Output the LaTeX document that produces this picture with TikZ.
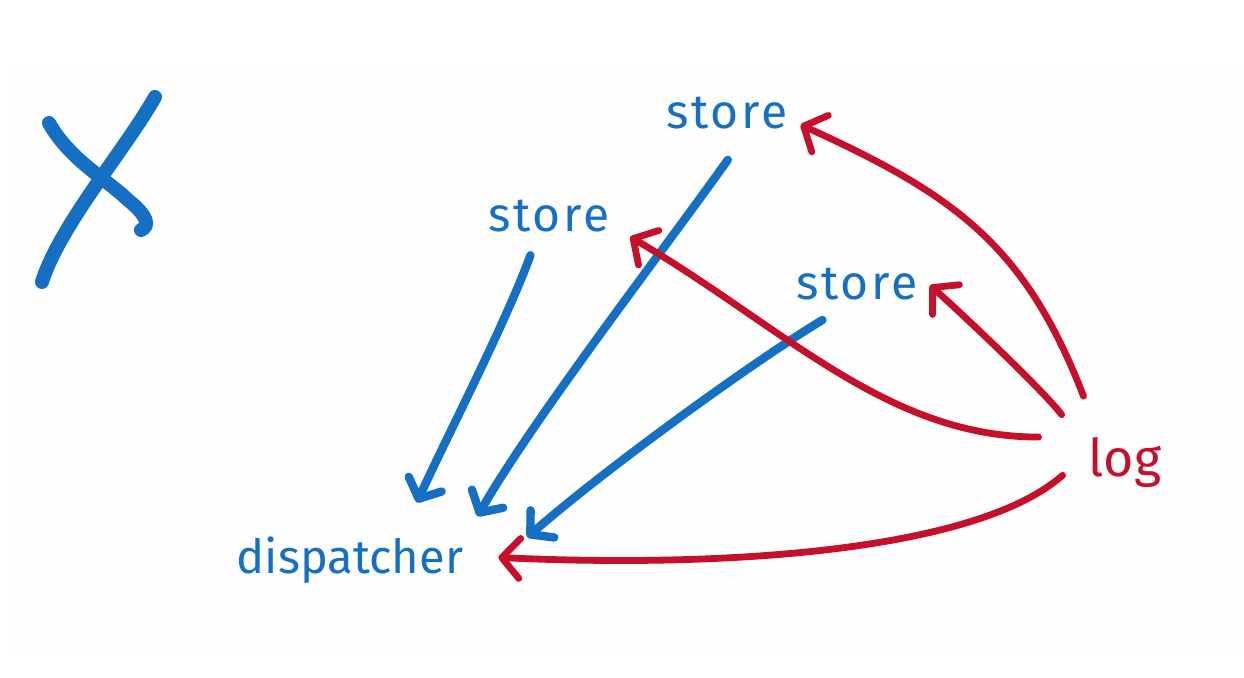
\documentclass[tikz,border=0pt]{standalone}
\usepackage{fontspec}
\setmainfont{Fira Sans}
\usetikzlibrary{arrows.meta}
\definecolor{inkblue}{HTML}{1570C4}
\definecolor{inkred}{HTML}{C5102B}
\definecolor{paper}{HTML}{FDFDFD}

\begin{document}
\begin{tikzpicture}[x=0.5pt,y=-0.5pt,
flow/.style = {line width=4.2pt, inkblue, line cap=round,
        -{Straight Barb[length=8pt,width=18pt,round]}},
back/.style = {line width=3.4pt, inkred, line cap=round,
        -{Straight Barb[length=9pt,width=20pt,round]}},
word/.style = {inner sep=0pt, font=\fontsize{23}{26}\selectfont},
storebox/.style = {word, text=inkblue, minimum width=65pt, minimum height=22pt,
        font=\fontsize{24}{28}\selectfont\addfontfeature{LetterSpace=6}}]

        \useasboundingbox (0,0) rectangle (1244,678);
        \fill[paper] (8,70) rectangle (1244,650);

        % cross
        \draw[line width=7pt,inkblue,line cap=round] (49,123) .. controls (70,160) and (105,178) .. (128,200)
            .. controls (148,216) and (150,226) .. (141,230);
        \draw[line width=7pt,inkblue,line cap=round] (155,97) .. controls (125,150) and (60,225) .. (42,282);

        \node[storebox] (ST_1) at (727,113) {store};
        \node[storebox] (ST_2) at (549,216) {store};
        \node[storebox] (ST_3) at (857,284) {store};
        \node[word, text=inkblue, minimum width=116pt, minimum height=30pt,
              font=\fontsize{23.5}{27}\selectfont] (DISP) at (350,560) {dispatcher};
        \node[word, text=inkred, font=\fontsize{26}{30}\selectfont,
              minimum width=38pt, minimum height=30pt] (LOG) at (1125,463) {log};

        \draw[flow,shorten <=9pt,shorten >=14.8pt] (ST_2.-119) .. controls (505.6,323.5) and (441.5,447.7) .. (DISP.29);
        \draw[flow,shorten <=15pt,shorten >=11pt] (ST_1.-51) .. controls (663.3,250.6) and (536.1,414.9) .. (DISP.12);
        \draw[flow,shorten <=13.2pt,shorten >=40.4pt] (ST_3.-118) .. controls (749.1,364.2) and (601.9,471.9) .. (DISP.south east);

        \draw[back,shorten <=19.5pt,shorten >=4.5pt] (LOG.132) .. controls (1025,245) and (955,195) .. (ST_1.-7);
        \draw[back,shorten <=24pt,shorten >=9.2pt] (LOG.146) .. controls (887,437) and (784.4,327.6) .. (ST_2.-10);
        \draw[back,shorten <=20.6pt,shorten >=5.2pt] (LOG.158) .. controls (1044.5,392.1) and (972.4,323.5) .. (ST_3.5);
        \draw[back,shorten <=16pt,shorten >=16pt] (LOG.167) .. controls (974.5,553) and (715.8,567.7) .. (DISP.2);

    \end{tikzpicture}
\end{document}
